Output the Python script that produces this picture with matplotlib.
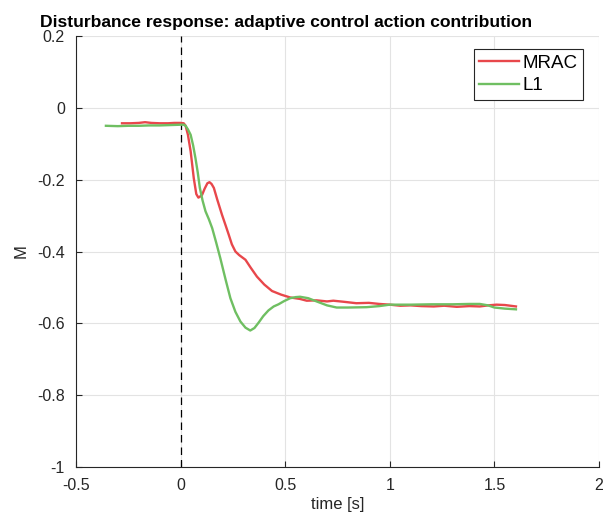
import matplotlib
matplotlib.use("Agg")
import matplotlib.pyplot as plt

plt.rcParams['font.family'] = ['Liberation Sans', 'DejaVu Sans']

# ---- data ----
t_mrac = [-0.28, -0.24, -0.20, -0.17, -0.14, -0.10, -0.06, -0.03, 0.0, 0.015, 0.024,
          0.035, 0.048, 0.063, 0.075, 0.085, 0.093, 0.103, 0.115, 0.128, 0.138, 0.148,
          0.159, 0.175, 0.198, 0.215, 0.230, 0.245, 0.262, 0.28, 0.31, 0.335, 0.365,
          0.40, 0.437, 0.48, 0.524, 0.57, 0.603, 0.65, 0.70, 0.73, 0.78, 0.84, 0.90,
          0.95, 1.0, 1.05, 1.10, 1.15, 1.21, 1.26, 1.32, 1.38, 1.43, 1.47, 1.51, 1.55,
          1.603]
m_mrac = [-0.043, -0.043, -0.042, -0.040, -0.042, -0.043, -0.043, -0.042, -0.042,
          -0.043, -0.05, -0.075, -0.121, -0.196, -0.24, -0.25, -0.247, -0.242, -0.225,
          -0.21, -0.207, -0.212, -0.223, -0.255, -0.298, -0.327, -0.353, -0.38, -0.40,
          -0.41, -0.423, -0.445, -0.47, -0.492, -0.51, -0.52, -0.528, -0.532, -0.537,
          -0.536, -0.539, -0.537, -0.540, -0.544, -0.543, -0.546, -0.548, -0.551,
          -0.550, -0.552, -0.553, -0.551, -0.554, -0.552, -0.553, -0.550, -0.548,
          -0.549, -0.553]

t_l1 = [-0.357, -0.30, -0.25, -0.20, -0.15, -0.10, -0.05, 0.0, 0.015, 0.024, 0.035,
        0.048, 0.06, 0.071, 0.082, 0.092, 0.105, 0.119, 0.135, 0.151, 0.17, 0.19,
        0.215, 0.238, 0.262, 0.286, 0.31, 0.333, 0.353, 0.373, 0.395, 0.42, 0.445,
        0.468, 0.495, 0.524, 0.55, 0.571, 0.61, 0.65, 0.70, 0.746, 0.80, 0.889, 0.95,
        1.0, 1.1, 1.2, 1.3, 1.38, 1.43, 1.47, 1.5, 1.55, 1.603]
m_l1 = [-0.05, -0.051, -0.050, -0.050, -0.049, -0.049, -0.048, -0.047, -0.047, -0.05,
        -0.06, -0.075, -0.105, -0.14, -0.18, -0.223, -0.258, -0.288, -0.31, -0.335,
        -0.375, -0.419, -0.478, -0.53, -0.568, -0.595, -0.612, -0.62, -0.613, -0.598,
        -0.58, -0.564, -0.553, -0.547, -0.538, -0.53, -0.527, -0.526, -0.530, -0.539,
        -0.550, -0.556, -0.556, -0.555, -0.552, -0.548, -0.548, -0.547, -0.547,
        -0.546, -0.546, -0.550, -0.556, -0.559, -0.561]

x_ticks = [-0.5, 0, 0.5, 1, 1.5, 2]
x_tick_labels = ['-0.5', '0', '0.5', '1', '1.5', '2']
y_ticks = [-1, -0.8, -0.6, -0.4, -0.2, 0, 0.2]
y_tick_labels = ['-1', '-0.8', '-0.6', '-0.4', '-0.2', '0', '0.2']
disturbance_time = 0.0

# ---- figure ----
W, H = 612, 517
fig = plt.figure(figsize=(W / 100, H / 100), dpi=100)
left, right, top, bottom = 76, 599, 36, 467
ax = fig.add_axes([left / W, (H - bottom) / H, (right - left) / W, (bottom - top) / H])

dark = '#262626'
ax.plot(t_mrac, m_mrac, color='#e8474b', lw=1.7, label='MRAC', zorder=3)
ax.plot(t_l1, m_l1, color='#6fbf62', lw=1.7, label='L1', zorder=3)
ax.axvline(disturbance_time, color='black', lw=0.9, ls=(0, (6, 4)), zorder=2)

ax.set_xlim(-0.5, 2)
ax.set_ylim(-1, 0.2)
ax.set_xticks(x_ticks)
ax.set_xticklabels(x_tick_labels)
ax.set_yticks(y_ticks)
ax.set_yticklabels(y_tick_labels)
ax.grid(True, color='#e3e3e3', lw=0.8)
ax.set_axisbelow(True)
for s in ['top', 'right']:
    ax.spines[s].set_visible(False)
for s in ['left', 'bottom']:
    ax.spines[s].set_color(dark)
    ax.spines[s].set_linewidth(0.8)
ax.tick_params(direction='in', length=4, width=0.8, colors=dark, labelsize=11.5,
               labelcolor=dark)
ax.tick_params(axis='x', pad=8)
ax.tick_params(axis='y', pad=8)

ax.set_xlabel('time [s]', fontsize=12, color=dark)
ax.set_ylabel('M', fontsize=12, color=dark)
ax.xaxis.set_label_coords(0.5, (bottom - 497) / (bottom - top))
ax.yaxis.set_label_coords((29 - left) / (right - left), 0.5)

fig.text(40 / W, 1 - 27 / H, 'Disturbance response: adaptive control action contribution',
         fontsize=12.6, fontweight='bold', ha='left', va='baseline', color='black')

leg = ax.legend(loc='upper right', bbox_to_anchor=((583 - left) / (right - left),
                                                   (bottom - 49) / (bottom - top)),
                fontsize=13.5, frameon=True, fancybox=False, framealpha=1,
                edgecolor=dark, handlelength=2.1, handletextpad=0.2,
                borderpad=0.3, labelspacing=0.3, borderaxespad=0)
leg.get_frame().set_linewidth(0.8)

fig.savefig('out.png', dpi=100)
